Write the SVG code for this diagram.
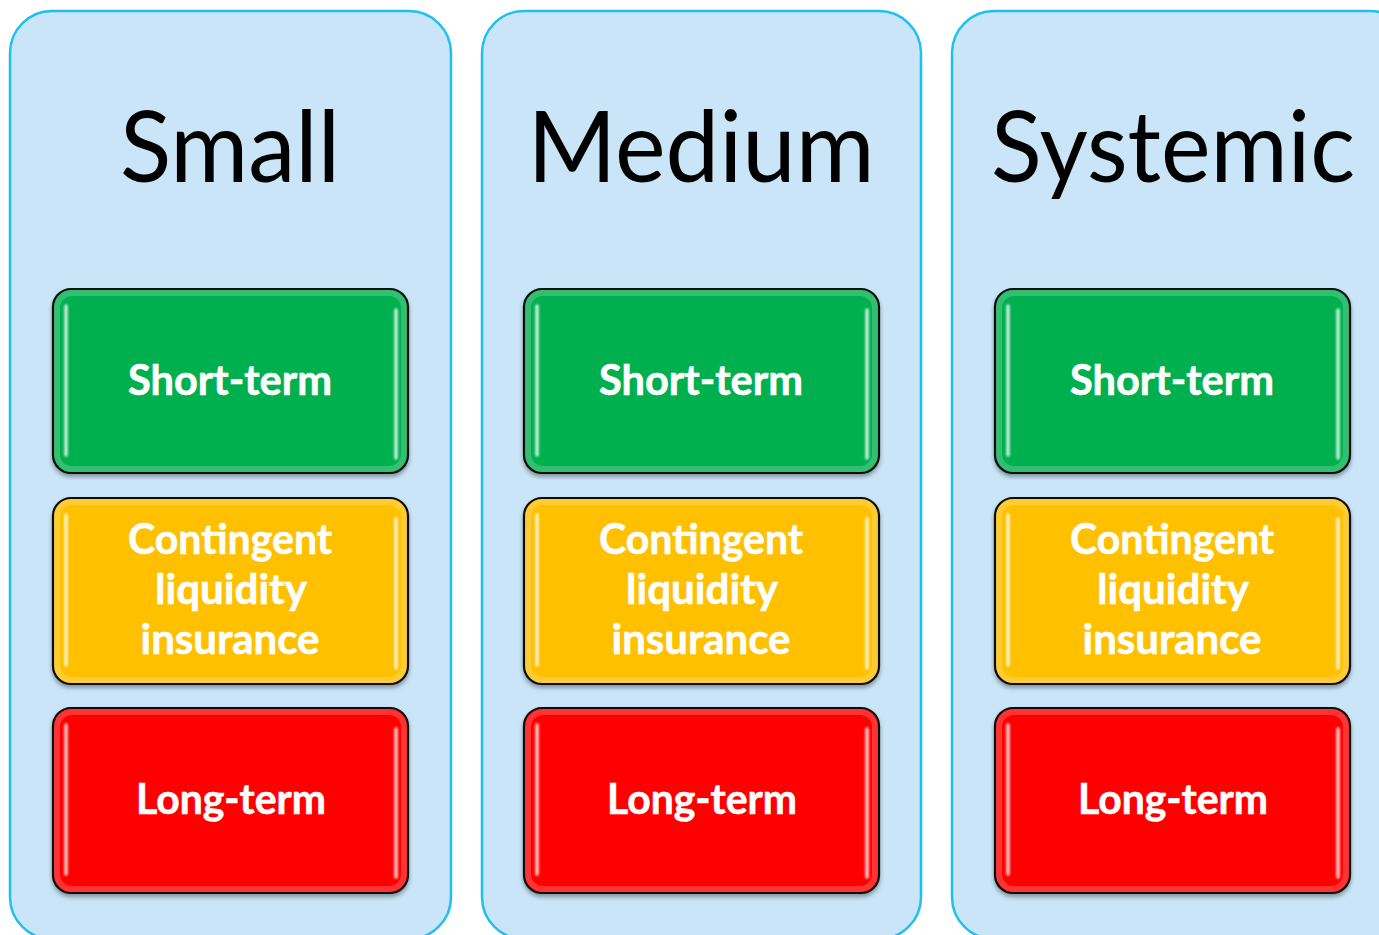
<svg xmlns="http://www.w3.org/2000/svg" width="1379" height="935" viewBox="0 0 1379 935">
<style>
.panel{fill:#C9E5F7;stroke:#1FC0F0;stroke-width:2.5}
.title{font-family:Lato,"Open Sans",sans-serif;font-size:98px;fill:#000;text-anchor:middle}
.box{stroke:#111;stroke-width:2.2;filter:url(#sh)}
.g{fill:#00B050}.y{fill:#FFC000}.r{fill:#FF0000}
.lbl{font-family:Lato,"Open Sans",sans-serif;font-weight:bold;font-size:42px;fill:#fff;text-anchor:middle;stroke:#fff;stroke-width:0.6}
.hl{stroke:#fff;stroke-width:3.5;stroke-linecap:round;opacity:.8;filter:url(#bl)}
.glow{fill:none;stroke:#fff;stroke-width:6;opacity:.2}
</style>
<defs>
<filter id="sh" x="-10%" y="-10%" width="120%" height="125%">
<feDropShadow dx="0" dy="3" stdDeviation="2" flood-color="#000" flood-opacity="0.35"/>
</filter>
<filter id="bl" filterUnits="userSpaceOnUse" x="0" y="0" width="1379" height="935">
<feGaussianBlur stdDeviation="0.8"/>
</filter>
</defs>
<g id="panel-small">
<rect class="panel" x="10" y="11" width="441" height="928" rx="42"/>
<text class="title" x="230" y="182" textLength="220" lengthAdjust="spacingAndGlyphs">Small</text>
</g>
<g id="panel-medium">
<rect class="panel" x="482" y="11" width="439" height="928" rx="42"/>
<text class="title" x="701" y="182" textLength="347" lengthAdjust="spacingAndGlyphs">Medium</text>
</g>
<g id="panel-systemic">
<rect class="panel" x="952" y="11" width="460" height="928" rx="42"/>
<text class="title" x="1173" y="182" textLength="364" lengthAdjust="spacingAndGlyphs">Systemic</text>
</g>
<g id="small-short"><rect class="box g" x="53" y="289" width="355" height="184" rx="18"/><rect class="glow" x="57" y="293" width="347" height="176" rx="15"/><line class="hl" x1="66" y1="306" x2="66" y2="455"/><line class="hl" x1="396" y1="310" x2="396" y2="458"/><text class="lbl" x="230" y="395" textLength="204" lengthAdjust="spacingAndGlyphs">Short-term</text></g>
<g id="small-contingent"><rect class="box y" x="53" y="498" width="355" height="186" rx="18"/><rect class="glow" x="57" y="502" width="347" height="178" rx="15"/><line class="hl" x1="66" y1="515" x2="66" y2="665"/><line class="hl" x1="396" y1="519" x2="396" y2="668"/><text class="lbl" x="230" y="554" textLength="204" lengthAdjust="spacingAndGlyphs">Contingent</text><text class="lbl" x="231" y="604" textLength="152" lengthAdjust="spacingAndGlyphs">liquidity</text><text class="lbl" x="230" y="654" textLength="179" lengthAdjust="spacingAndGlyphs">insurance</text></g>
<g id="small-long"><rect class="box r" x="53" y="708" width="355" height="185" rx="18"/><rect class="glow" x="57" y="712" width="347" height="177" rx="15"/><line class="hl" x1="66" y1="725" x2="66" y2="874"/><line class="hl" x1="396" y1="729" x2="396" y2="877"/><text class="lbl" x="231" y="814" textLength="190" lengthAdjust="spacingAndGlyphs">Long-term</text></g>
<g id="medium-short"><rect class="box g" x="524" y="289" width="355" height="184" rx="18"/><rect class="glow" x="528" y="293" width="347" height="176" rx="15"/><line class="hl" x1="537" y1="306" x2="537" y2="455"/><line class="hl" x1="867" y1="310" x2="867" y2="458"/><text class="lbl" x="701" y="395" textLength="204" lengthAdjust="spacingAndGlyphs">Short-term</text></g>
<g id="medium-contingent"><rect class="box y" x="524" y="498" width="355" height="186" rx="18"/><rect class="glow" x="528" y="502" width="347" height="178" rx="15"/><line class="hl" x1="537" y1="515" x2="537" y2="665"/><line class="hl" x1="867" y1="519" x2="867" y2="668"/><text class="lbl" x="701" y="554" textLength="204" lengthAdjust="spacingAndGlyphs">Contingent</text><text class="lbl" x="702" y="604" textLength="152" lengthAdjust="spacingAndGlyphs">liquidity</text><text class="lbl" x="701" y="654" textLength="179" lengthAdjust="spacingAndGlyphs">insurance</text></g>
<g id="medium-long"><rect class="box r" x="524" y="708" width="355" height="185" rx="18"/><rect class="glow" x="528" y="712" width="347" height="177" rx="15"/><line class="hl" x1="537" y1="725" x2="537" y2="874"/><line class="hl" x1="867" y1="729" x2="867" y2="877"/><text class="lbl" x="702" y="814" textLength="190" lengthAdjust="spacingAndGlyphs">Long-term</text></g>
<g id="systemic-short"><rect class="box g" x="995" y="289" width="355" height="184" rx="18"/><rect class="glow" x="999" y="293" width="347" height="176" rx="15"/><line class="hl" x1="1008" y1="306" x2="1008" y2="455"/><line class="hl" x1="1338" y1="310" x2="1338" y2="458"/><text class="lbl" x="1172" y="395" textLength="204" lengthAdjust="spacingAndGlyphs">Short-term</text></g>
<g id="systemic-contingent"><rect class="box y" x="995" y="498" width="355" height="186" rx="18"/><rect class="glow" x="999" y="502" width="347" height="178" rx="15"/><line class="hl" x1="1008" y1="515" x2="1008" y2="665"/><line class="hl" x1="1338" y1="519" x2="1338" y2="668"/><text class="lbl" x="1172" y="554" textLength="204" lengthAdjust="spacingAndGlyphs">Contingent</text><text class="lbl" x="1173" y="604" textLength="152" lengthAdjust="spacingAndGlyphs">liquidity</text><text class="lbl" x="1172" y="654" textLength="179" lengthAdjust="spacingAndGlyphs">insurance</text></g>
<g id="systemic-long"><rect class="box r" x="995" y="708" width="355" height="185" rx="18"/><rect class="glow" x="999" y="712" width="347" height="177" rx="15"/><line class="hl" x1="1008" y1="725" x2="1008" y2="874"/><line class="hl" x1="1338" y1="729" x2="1338" y2="877"/><text class="lbl" x="1173" y="814" textLength="190" lengthAdjust="spacingAndGlyphs">Long-term</text></g>
<g id="connectors"/>
</svg>
